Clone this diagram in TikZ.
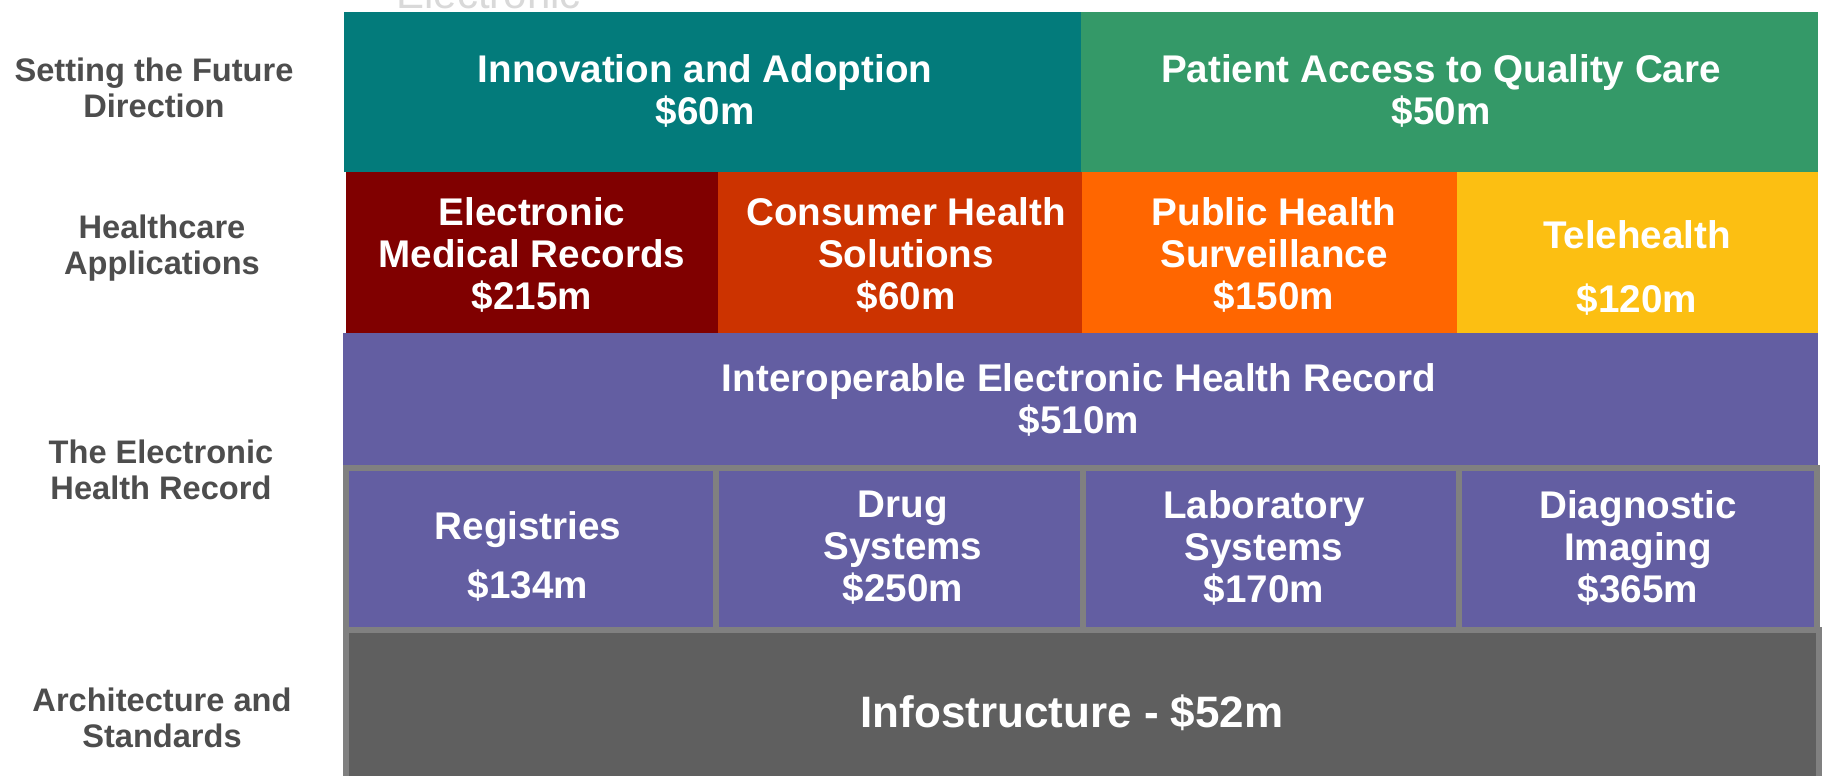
\documentclass[tikz,border=0pt]{standalone}
\usepackage{fontspec}
\setmainfont{Liberation Sans}
\definecolor{cTeal}{RGB}{3,123,123}
\definecolor{cGreen}{RGB}{52,153,104}
\definecolor{cDarkRed}{RGB}{128,0,0}
\definecolor{cRust}{RGB}{204,51,0}
\definecolor{cOrange}{RGB}{255,102,0}
\definecolor{cYellow}{RGB}{252,191,18}
\definecolor{cPurple}{RGB}{99,94,162}
\definecolor{cEdge}{RGB}{128,128,128}
\definecolor{cInfra}{RGB}{95,95,95}
\definecolor{cLabel}{RGB}{77,77,77}
\tikzset{
  boxtext/.style={text=white, font=\bfseries\fontsize{19.3}{21}\selectfont, align=center, inner sep=0pt},
  rowlabel/.style={text=cLabel, font=\bfseries\fontsize{16.3}{18}\selectfont, align=center, inner sep=0pt},
  subbox/.style={fill=cPurple, draw=cEdge, line width=3pt},
  bigbox/.style={draw=cEdge, line width=3pt}
}
\begin{document}
\begin{tikzpicture}[x=0.5pt,y=-0.5pt]
\useasboundingbox (0,0) rectangle (1825,776);
\fill[white] (0,0) rectangle (1825,776);
% ghost text at top
\node[anchor=base west, text=gray!30, font=\fontsize{21}{24}\selectfont, inner sep=0pt] (ghost) at (396,9) {Electronic};
% row 1
\fill[cTeal] (344,12) rectangle (1081,172);
\fill[cGreen] (1081,12) rectangle (1818,172);
% row 2
\fill[cDarkRed] (346,172) rectangle (718,333);
\fill[cRust] (718,172) rectangle (1082,333);
\fill[cOrange] (1082,172) rectangle (1457,333);
\fill[cYellow] (1457,172) rectangle (1818,333);
% row 3
\fill[cPurple] (343,333) rectangle (1818,469);
% row 4
\filldraw[subbox] (345.5,468) rectangle (716,630);
\filldraw[subbox] (716,468) rectangle (1082.5,630);
\filldraw[subbox] (1082.5,468) rectangle (1459,630);
\filldraw[subbox] (1459,468) rectangle (1816.5,630);
% row 5
\filldraw[fill=cInfra, bigbox] (345.5,630) rectangle (1818.5,790);
% texts
\node[boxtext] (inno) at (705,91) {Innovation and Adoption\\\$60m};
\node[boxtext] (pacc) at (1441,91) {Patient Access to Quality Care\\\$50m};
\node[boxtext] (emr) at (532,255) {Electronic\\Medical Records\\\$215m};
\node[boxtext] (chs) at (906,255) {Consumer Health\\Solutions\\\$60m};
\node[boxtext] (phs) at (1274,255) {Public Health\\Surveillance\\\$150m};
\node[boxtext] (tele) at (1637,268) {Telehealth\\[11pt]\$120m};
\node[boxtext] (iehr) at (1079,400) {Interoperable Electronic Health Record\\\$510m};
\node[boxtext] (reg) at (528,556) {Registries\\[8.5pt]\$134m};
\node[boxtext] (drug) at (903,548) {Drug\\Systems\\\$250m};
\node[boxtext] (lab) at (1264,548) {Laboratory\\Systems\\\$170m};
\node[boxtext] (diag) at (1638,548) {Diagnostic\\Imaging\\\$365m};
\node[boxtext, font=\bfseries\fontsize{22}{24}\selectfont] (info) at (1072,713) {Infostructure - \$52m};
% row labels
\node[rowlabel] (l1) at (154,88) {Setting the Future\\Direction};
\node[rowlabel] (l2) at (162,248) {Healthcare\\Applications};
\node[rowlabel] (l3) at (161,470) {The Electronic\\Health Record};
\node[rowlabel] (l4) at (162,718) {Architecture and\\Standards};
\end{tikzpicture}
\end{document}
